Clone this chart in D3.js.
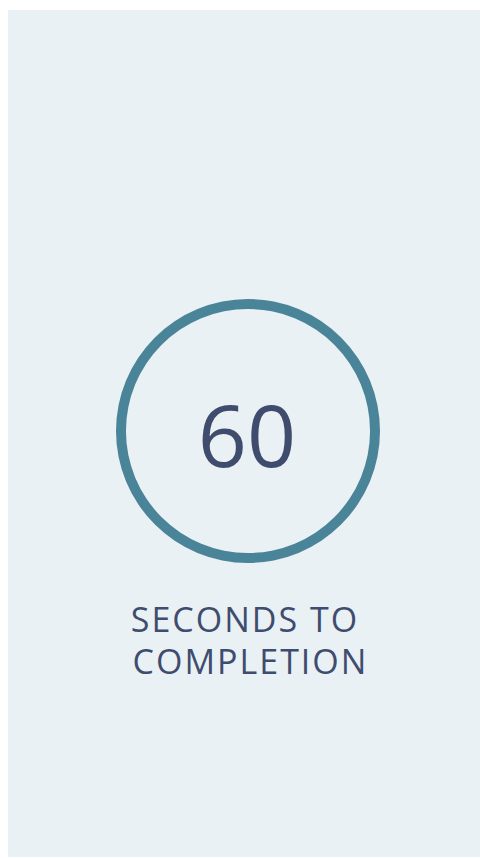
<!DOCTYPE html>
<html>
<head>
<meta charset="utf-8">
<script src="https://cdn.jsdelivr.net/npm/d3@7"></script>
<style>
  html, body { margin: 0; padding: 0; background: #ffffff; }
  svg { display: block; }
</style>
</head>
<body>
<div id="chart"></div>
<script>
// countdown values
const secondsLeft = [60];
const totalSeconds = [60];
const labelLines = ['SECONDS TO', 'COMPLETION'];

const width = 480, height = 858;
const colors = {
    panel: '#e9f1f4',
    ring: '#4a8499',
    text: '#3f4c6e'
};

const svg = d3.select('#chart')
    .append('svg')
    .attr('width', width)
    .attr('height', height);

// background panel
svg.append('rect')
    .attr('x', 8)
    .attr('y', 10)
    .attr('width', width - 8)
    .attr('height', 847)
    .attr('fill', colors.panel);

const cx = 248, cy = 431;
const radius = 127;

const g = svg.append('g')
    .attr('transform', `translate(${cx},${cy})`);

// ring showing remaining share of time
const angle = d3.scaleLinear()
    .domain([0, totalSeconds[0]])
    .range([0, 2 * Math.PI]);

const arc = d3.arc()
    .innerRadius(radius - 5)
    .outerRadius(radius + 5)
    .startAngle(0);

g.selectAll('path.ring')
    .data(secondsLeft)
    .enter()
    .append('path')
    .attr('class', 'ring')
    .attr('d', d => arc({endAngle: angle(d)}))
    .attr('fill', colors.ring);

g.selectAll('text.count')
    .data(secondsLeft)
    .enter()
    .append('text')
    .attr('class', 'count')
    .attr('x', -1)
    .attr('y', 36)
    .attr('text-anchor', 'middle')
    .style('font-family', '"Open Sans", sans-serif')
    .style('font-size', '86px')
    .style('fill', colors.text)
    .text(d => d);

// label under the ring
svg.selectAll('text.label')
    .data(labelLines)
    .enter()
    .append('text')
    .attr('class', 'label')
    .attr('x', (d, i) => i === 0 ? 245 : 250.5)
    .attr('y', (d, i) => 632 + i * 42)
    .attr('text-anchor', 'middle')
    .style('font-family', '"Open Sans", sans-serif')
    .style('font-size', '34px')
    .style('letter-spacing', '2px')
    .style('fill', colors.text)
    .text(d => d);
</script>
</body>
</html>
